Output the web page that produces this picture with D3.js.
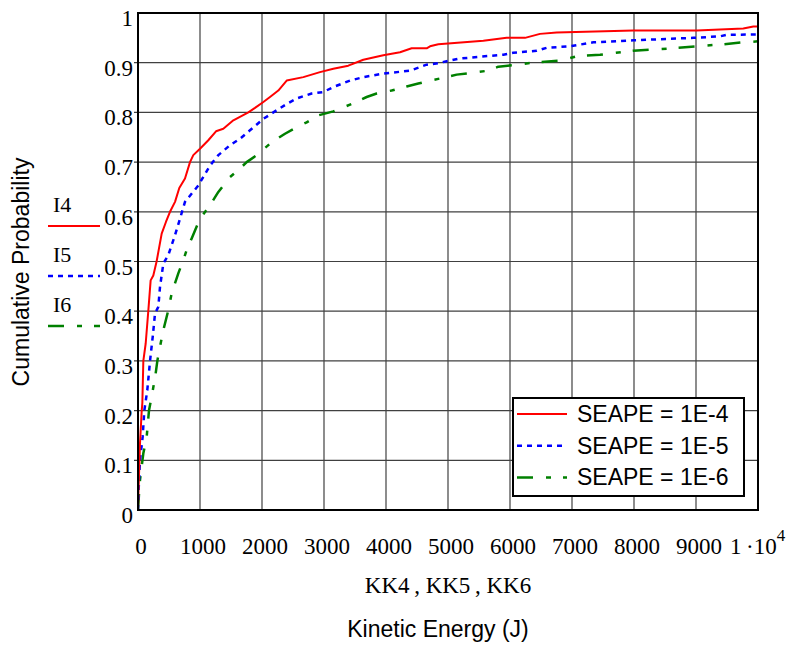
<!DOCTYPE html>
<html>
<head>
<meta charset="utf-8">
<script src="https://cdn.jsdelivr.net/npm/d3@7"></script>
<style>
  html, body { margin: 0; padding: 0; background: #fff; }
  svg { display: block; }
</style>
</head>
<body>
<svg id="chart" width="786" height="645"></svg>
<script>
// Empirical cumulative distributions of kinetic energy (J) for three SEAPE levels
const energyI4 = [0, 8, 24, 32, 60, 70, 86, 124, 166, 204, 247, 300, 382, 452, 516, 597, 666, 758, 839, 892, 1000, 1134, 1258, 1376, 1538, 1780, 1887, 2022, 2129, 2263, 2398, 2667, 2935, 3150, 3392, 3634, 3957, 4226, 4414, 4656, 4710, 4844, 5570, 5946, 6242, 6484, 6753, 7989, 9011, 9763, 9925, 10000];
const probI4   = [0, 0.04, 0.10, 0.134, 0.20, 0.215, 0.30, 0.335, 0.40, 0.462, 0.472, 0.50, 0.556, 0.580, 0.600, 0.62, 0.648, 0.667, 0.70, 0.714, 0.727, 0.744, 0.762, 0.767, 0.784, 0.80, 0.809, 0.821, 0.831, 0.844, 0.864, 0.871, 0.881, 0.888, 0.894, 0.906, 0.915, 0.921, 0.929, 0.929, 0.933, 0.937, 0.944, 0.950, 0.950, 0.958, 0.961, 0.965, 0.965, 0.969, 0.973, 0.973];

const energyI5 = [0, 10, 32, 75, 102, 150, 194, 237, 274, 328, 355, 409, 489, 597, 677, 758, 973, 1161, 1296, 1484, 1645, 1806, 2022, 2183, 2398, 2559, 2801, 2989, 3150, 3419, 3634, 3957, 4387, 4656, 4844, 4978, 5166, 5516, 5892, 6054, 6430, 6591, 6968, 7344, 7989, 8957, 9387, 9495, 10000];
const probI5   = [0, 0.04, 0.10, 0.147, 0.20, 0.241, 0.30, 0.348, 0.395, 0.409, 0.449, 0.496, 0.513, 0.553, 0.586, 0.62, 0.653, 0.693, 0.714, 0.734, 0.747, 0.764, 0.787, 0.80, 0.817, 0.828, 0.838, 0.841, 0.851, 0.864, 0.871, 0.878, 0.884, 0.896, 0.899, 0.903, 0.908, 0.912, 0.916, 0.920, 0.924, 0.930, 0.933, 0.941, 0.945, 0.950, 0.953, 0.956, 0.957];

const energyI6 = [0, 15, 32, 86, 140, 177, 231, 285, 312, 344, 409, 489, 543, 650, 731, 785, 864, 1000, 1161, 1296, 1484, 1645, 1753, 1914, 2156, 2371, 2559, 2720, 2908, 3150, 3446, 3688, 3849, 4091, 4333, 4521, 4710, 4978, 5140, 5409, 5650, 5812, 6108, 6430, 6806, 7075, 7452, 7989, 8634, 9011, 9441, 9763, 10000];
const probI6   = [0, 0.03, 0.06, 0.114, 0.147, 0.20, 0.235, 0.275, 0.30, 0.322, 0.362, 0.402, 0.436, 0.476, 0.503, 0.523, 0.546, 0.586, 0.613, 0.640, 0.670, 0.687, 0.70, 0.714, 0.740, 0.757, 0.770, 0.78, 0.794, 0.802, 0.817, 0.831, 0.838, 0.844, 0.852, 0.858, 0.864, 0.871, 0.876, 0.880, 0.884, 0.892, 0.896, 0.901, 0.904, 0.913, 0.916, 0.924, 0.929, 0.933, 0.937, 0.941, 0.943];

const xTicks = [0, 1000, 2000, 3000, 4000, 5000, 6000, 7000, 8000, 9000];
const xTickLabels = ["0", "1000", "2000", "3000", "4000", "5000", "6000", "7000", "8000", "9000"];
const yTicks = [0, 0.1, 0.2, 0.3, 0.4, 0.5, 0.6, 0.7, 0.8, 0.9, 1];
const yTickLabels = ["0", "0.1", "0.2", "0.3", "0.4", "0.5", "0.6", "0.7", "0.8", "0.9", "1"];

const seriesNames = ["I4", "I5", "I6"];
const legendLabels = ["SEAPE = 1E-4", "SEAPE = 1E-5", "SEAPE = 1E-6"];
const seriesColors = ["#ff0000", "#0000ff", "#008000"];
const seriesDash = [null, "5,5", "16,13,5,12"];
const seriesWidth = [2, 2.5, 2.5];

const series = [
  { e: energyI4, p: probI4 },
  { e: energyI5, p: probI5 },
  { e: energyI6, p: probI6 }
].map((s, i) => ({
  name: seriesNames[i],
  label: legendLabels[i],
  color: seriesColors[i],
  dash: seriesDash[i],
  width: seriesWidth[i],
  points: s.e.map((v, j) => [v, s.p[j]])
}));

const serif = "'Liberation Serif', 'Times New Roman', serif";
const sans = "'Liberation Sans', Arial, sans-serif";

const svg = d3.select("#chart");
svg.append("rect").attr("width", 786).attr("height", 645).attr("fill", "#fff");

const x = d3.scaleLinear().domain([0, 10000]).range([138, 758]);
const y = d3.scaleLinear().domain([0, 1]).range([510, 13]);

// grid
const grid = svg.append("g");
grid.selectAll("line.vg").data(xTicks.slice(1)).join("line")
  .attr("x1", d => x(d)).attr("x2", d => x(d))
  .attr("y1", y(0)).attr("y2", y(1))
  .attr("stroke", "#404040").attr("stroke-width", 1.2);
grid.selectAll("line.hg").data(yTicks.slice(1, -1)).join("line")
  .attr("x1", x(0) - 4).attr("x2", x(10000))
  .attr("y1", d => y(d)).attr("y2", d => y(d))
  .attr("stroke", "#404040").attr("stroke-width", 1.2);

// curves
svg.append("clipPath").attr("id", "plotclip").append("rect")
  .attr("x", x(0)).attr("y", y(1)).attr("width", x(10000) - x(0)).attr("height", y(0) - y(1));

const line = d3.line().x(d => x(d[0])).y(d => y(d[1]));
const curves = svg.append("g").attr("clip-path", "url(#plotclip)");
series.slice().reverse().forEach(s => {
  curves.append("path")
    .attr("d", line(s.points))
    .attr("fill", "none")
    .attr("stroke", s.color)
    .attr("stroke-width", s.width)
    .attr("stroke-dasharray", s.dash)
    .attr("stroke-linejoin", "round");
});

// frame
svg.append("rect")
  .attr("x", x(0)).attr("y", y(1))
  .attr("width", x(10000) - x(0)).attr("height", y(0) - y(1))
  .attr("fill", "none").attr("stroke", "#000").attr("stroke-width", 2);

// y tick labels
svg.append("g").selectAll("text").data(yTicks).join("text")
  .attr("x", x(0) - 5)
  .attr("y", d => y(d) + 13)
  .attr("text-anchor", "end")
  .attr("font-family", serif).attr("font-size", 23)
  .text((d, i) => yTickLabels[i]);

// x tick labels
svg.append("g").selectAll("text").data(xTicks).join("text")
  .attr("x", d => x(d) + 3)
  .attr("y", 554)
  .attr("text-anchor", "middle")
  .attr("font-family", serif).attr("font-size", 23)
  .text((d, i) => xTickLabels[i]);

const last = svg.append("text")
  .attr("x", x(10000) - 28).attr("y", 554)
  .attr("font-family", serif).attr("font-size", 23);
last.append("tspan").text("1\u2009\u00b710");
last.append("tspan").attr("font-size", 17).attr("dy", -13).text("4");

// axis titles
svg.append("text")
  .attr("x", 448).attr("y", 593)
  .attr("text-anchor", "middle")
  .attr("font-family", serif).attr("font-size", 23)
  .text("KK4\u2009, KK5\u2009, KK6");

svg.append("text")
  .attr("x", 438).attr("y", 637)
  .attr("text-anchor", "middle")
  .attr("font-family", sans).attr("font-size", 23)
  .text("Kinetic Energy (J)");

svg.append("text")
  .attr("transform", "translate(29,272) rotate(-90)")
  .attr("text-anchor", "middle")
  .attr("font-family", sans).attr("font-size", 23)
  .text("Cumulative Probability");

// trace names at left
const traceY = [226, 276, 326];
series.forEach((s, i) => {
  svg.append("text")
    .attr("x", 53).attr("y", traceY[i] - 14)
    .attr("font-family", serif).attr("font-size", 22)
    .text(s.name);
  svg.append("line")
    .attr("x1", 48).attr("x2", 100)
    .attr("y1", traceY[i]).attr("y2", traceY[i])
    .attr("stroke", s.color).attr("stroke-width", s.width)
    .attr("stroke-dasharray", s.dash);
});

// legend box
const lg = svg.append("g");
lg.append("rect")
  .attr("x", 513).attr("y", 398).attr("width", 231).attr("height", 98)
  .attr("fill", "#fff").attr("stroke", "#000").attr("stroke-width", 2);
series.forEach((s, i) => {
  const ly = 414 + i * 31.7;
  lg.append("line")
    .attr("x1", 517).attr("x2", 567)
    .attr("y1", ly).attr("y2", ly)
    .attr("stroke", s.color).attr("stroke-width", s.width)
    .attr("stroke-dasharray", s.dash);
  lg.append("text")
    .attr("x", 577).attr("y", ly + 8)
    .attr("font-family", sans).attr("font-size", 23)
    .text(s.label);
});
</script>
</body>
</html>
